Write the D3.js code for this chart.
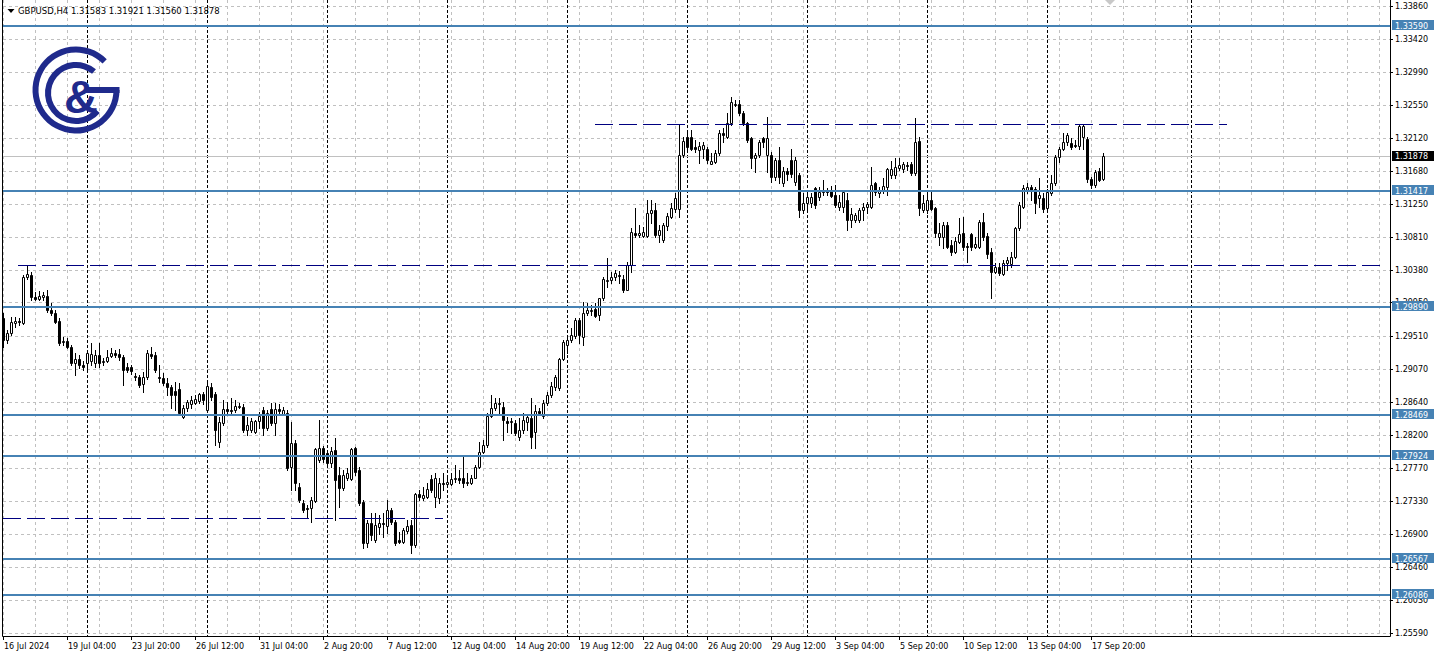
<!DOCTYPE html>
<html><head><meta charset="utf-8">
<script src="https://cdn.jsdelivr.net/npm/d3@7"></script>
<style>
html,body{margin:0;padding:0;background:#fff;overflow:hidden;}
svg{display:block;}
</style></head><body>
<svg id="chart" width="1437" height="657"></svg>
<script>
const symbolTitle = "GBPUSD,H4";

const openPrices = [
1.2974,1.2945,1.2955,1.2968,1.2970,1.2968,1.3028,1.3031,1.3002,1.2999,
1.3002,1.3003,1.2985,1.2981,1.2970,1.2943,1.2944,1.2936,1.2915,1.2920,
1.2912,1.2915,1.2918,1.2915,1.2926,1.2916,1.2918,1.2924,1.2928,1.2927,
1.2923,1.2910,1.2910,1.2898,1.2896,1.2887,1.2896,1.2927,1.2926,1.2896,
1.2895,1.2889,1.2883,1.2878,1.2881,1.2844,1.2856,1.2861,1.2862,1.2865,
1.2874,1.2853,1.2883,1.2874,1.2811,1.2836,1.2854,1.2853,1.2853,1.2857,
1.2857,1.2827,1.2827,1.2824,1.2838,1.2853,1.2829,1.2854,1.2836,1.2854,
1.2848,1.2849,1.2778,1.2809,1.2751,1.2730,1.2724,1.2724,1.2733,1.2787,
1.2803,1.2796,1.2783,1.2800,1.2767,1.2750,1.2764,1.2762,1.2803,1.2774,
1.2732,1.2678,1.2704,1.2682,1.2699,1.2704,1.2700,1.2721,1.2705,1.2682,
1.2679,1.2693,1.2701,1.2675,1.2742,1.2737,1.2738,1.2762,1.2738,1.2737,
1.2757,1.2756,1.2756,1.2762,1.2763,1.2763,1.2757,1.2757,1.2764,1.2778,
1.2798,1.2807,1.2845,1.2856,1.2861,1.2857,1.2838,1.2837,1.2836,1.2817,
1.2827,1.2837,1.2842,1.2824,1.2852,1.2845,1.2862,1.2873,1.2883,1.2882,
1.2920,1.2939,1.2945,1.2951,1.2972,1.2949,1.2981,1.2984,1.2986,1.2978,
1.3001,1.3023,1.3024,1.3028,1.3031,1.3026,1.3012,1.3044,1.3086,1.3084,
1.3082,1.3082,1.3113,1.3117,1.3084,1.3077,1.3096,1.3108,1.3118,1.3118,
1.3190,1.3213,1.3213,1.3200,1.3196,1.3198,1.3198,1.3178,1.3180,1.3192,
1.3218,1.3213,1.3232,1.3255,1.3257,1.3245,1.3232,1.3212,1.3186,1.3190,
1.3212,1.3190,1.3190,1.3160,1.3183,1.3152,1.3168,1.3183,1.3154,1.3163,
1.3117,1.3126,1.3126,1.3146,1.3134,1.3141,1.3142,1.3143,1.3137,1.3121,
1.3121,1.3130,1.3104,1.3104,1.3104,1.3117,1.3121,1.3121,1.3152,1.3139,
1.3143,1.3147,1.3163,1.3163,1.3172,1.3171,1.3176,1.3178,1.3166,1.3208,
1.3117,1.3117,1.3130,1.3120,1.3081,1.3081,1.3097,1.3071,1.3062,1.3075,
1.3086,1.3069,1.3085,1.3068,1.3068,1.3101,1.3082,1.3062,1.3035,1.3042,
1.3032,1.3047,1.3046,1.3055,1.3093,1.3121,1.3143,1.3147,1.3145,1.3133,
1.3133,1.3120,1.3139,1.3152,1.3187,1.3198,1.3207,1.3205,1.3203,1.3201,
1.3213,1.3210,1.3158,1.3150,1.3168,1.31583];

const highPrices = [
1.2981,1.2959,1.2976,1.2976,1.2974,1.3031,1.3044,1.3035,1.3009,1.3010,
1.3009,1.3012,1.2994,1.2985,1.2974,1.2949,1.2948,1.2939,1.2928,1.2926,
1.2918,1.2932,1.2941,1.2932,1.2941,1.2922,1.2932,1.2935,1.2932,1.2933,
1.2926,1.2915,1.2912,1.2902,1.2899,1.2903,1.2932,1.2936,1.2930,1.2912,
1.2902,1.2895,1.2886,1.2890,1.2889,1.2860,1.2866,1.2871,1.2873,1.2875,
1.2877,1.2889,1.2889,1.2877,1.2844,1.2866,1.2864,1.2869,1.2866,1.2862,
1.2861,1.2844,1.2842,1.2840,1.2850,1.2857,1.2853,1.2862,1.2862,1.2861,
1.2857,1.2853,1.2837,1.2813,1.2757,1.2734,1.2728,1.2738,1.2803,1.2840,
1.2805,1.2800,1.2804,1.2816,1.2778,1.2774,1.2776,1.2803,1.2804,1.2778,
1.2734,1.2708,1.2717,1.2717,1.2715,1.2717,1.2734,1.2724,1.2708,1.2692,
1.2698,1.2708,1.2708,1.2743,1.2747,1.2751,1.2757,1.2767,1.2770,1.2764,
1.2770,1.2764,1.2770,1.2780,1.2774,1.2794,1.2770,1.2767,1.2780,1.2811,
1.2813,1.2849,1.2873,1.2869,1.2869,1.2864,1.2844,1.2842,1.2840,1.2842,
1.2849,1.2846,1.2869,1.2860,1.2856,1.2866,1.2877,1.2890,1.2899,1.2922,
1.2945,1.2948,1.2961,1.2974,1.2974,1.2996,1.2994,1.2991,1.2994,1.3001,
1.3028,1.3053,1.3035,1.3038,1.3036,1.3031,1.3048,1.3093,1.3120,1.3097,
1.3094,1.3130,1.3130,1.3126,1.3097,1.3100,1.3113,1.3126,1.3139,1.3229,
1.3213,1.3220,1.3222,1.3209,1.3207,1.3207,1.3200,1.3192,1.3196,1.3222,
1.3225,1.3245,1.3266,1.3262,1.3262,1.3248,1.3233,1.3213,1.3192,1.3209,
1.3213,1.3240,1.3194,1.3186,1.3200,1.3174,1.3172,1.3198,1.3187,1.3166,
1.3139,1.3139,1.3139,1.3147,1.3147,1.3157,1.3146,1.3149,1.3150,1.3137,
1.3143,1.3139,1.3120,1.3113,1.3120,1.3126,1.3128,1.3174,1.3154,1.3147,
1.3159,1.3172,1.3182,1.3186,1.3186,1.3180,1.3180,1.3180,1.3238,1.3213,
1.3137,1.3143,1.3143,1.3121,1.3100,1.3101,1.3101,1.3077,1.3081,1.3107,
1.3108,1.3073,1.3086,1.3081,1.3104,1.3113,1.3086,1.3067,1.3047,1.3047,
1.3051,1.3055,1.3062,1.3094,1.3127,1.3150,1.3152,1.3150,1.3147,1.3159,
1.3139,1.3145,1.3163,1.3190,1.3200,1.3218,1.3218,1.3212,1.3209,1.3229,
1.3230,1.3213,1.3160,1.3170,1.3172,1.31921];

const lowPrices = [
1.2936,1.2941,1.2952,1.2963,1.2965,1.2967,1.3026,1.2998,1.2998,1.2998,
1.2998,1.2982,1.2978,1.2968,1.2939,1.2939,1.2935,1.2912,1.2899,1.2908,
1.2906,1.2906,1.2912,1.2910,1.2910,1.2912,1.2916,1.2923,1.2923,1.2919,
1.2886,1.2903,1.2900,1.2893,1.2883,1.2877,1.2894,1.2922,1.2903,1.2890,
1.2886,1.2873,1.2856,1.2853,1.2846,1.2842,1.2852,1.2856,1.2861,1.2862,
1.2861,1.2850,1.2866,1.2807,1.2804,1.2833,1.2849,1.2848,1.2850,1.2856,
1.2824,1.2820,1.2824,1.2823,1.2829,1.2820,1.2827,1.2833,1.2820,1.2849,
1.2846,1.2774,1.2747,1.2747,1.2732,1.2719,1.2711,1.2705,1.2732,1.2784,
1.2784,1.2780,1.2778,1.2708,1.2725,1.2747,1.2761,1.2761,1.2768,1.2728,
1.2671,1.2672,1.2682,1.2679,1.2689,1.2686,1.2691,1.2703,1.2675,1.2678,
1.2678,1.2691,1.2664,1.2672,1.2734,1.2734,1.2737,1.2745,1.2725,1.2730,
1.2747,1.2751,1.2754,1.2758,1.2757,1.2751,1.2754,1.2756,1.2763,1.2776,
1.2796,1.2804,1.2844,1.2853,1.2849,1.2813,1.2824,1.2823,1.2820,1.2813,
1.2823,1.2827,1.2803,1.2803,1.2846,1.2842,1.2860,1.2870,1.2879,1.2879,
1.2919,1.2928,1.2943,1.2948,1.2941,1.2939,1.2978,1.2978,1.2976,1.2972,
1.2998,1.3015,1.3020,1.3024,1.3020,1.3009,1.3011,1.3035,1.3081,1.3081,
1.3081,1.3081,1.3100,1.3081,1.3075,1.3075,1.3090,1.3106,1.3114,1.3108,
1.3187,1.3196,1.3196,1.3194,1.3179,1.3185,1.3179,1.3177,1.3179,1.3190,
1.3207,1.3212,1.3229,1.3254,1.3242,1.3229,1.3207,1.3172,1.3167,1.3187,
1.3200,1.3167,1.3154,1.3157,1.3153,1.3149,1.3157,1.3160,1.3150,1.3108,
1.3113,1.3114,1.3121,1.3120,1.3130,1.3137,1.3137,1.3134,1.3121,1.3117,
1.3114,1.3090,1.3094,1.3101,1.3101,1.3104,1.3113,1.3120,1.3137,1.3134,
1.3139,1.3137,1.3159,1.3159,1.3170,1.3167,1.3170,1.3163,1.3163,1.3110,
1.3114,1.3113,1.3117,1.3081,1.3071,1.3067,1.3067,1.3058,1.3060,1.3073,
1.3064,1.3048,1.3064,1.3067,1.3067,1.3077,1.3054,1.3001,1.3034,1.3031,
1.3031,1.3038,1.3042,1.3053,1.3090,1.3120,1.3139,1.3130,1.3113,1.3121,
1.3114,1.3117,1.3137,1.3150,1.3180,1.3196,1.3203,1.3198,1.3200,1.3198,
1.3198,1.3154,1.3146,1.3147,1.3155,1.31560];

const closePrices = [
1.2945,1.2955,1.2969,1.2970,1.2969,1.3028,1.3032,1.3002,1.2999,1.3003,
1.3005,1.2985,1.2981,1.2969,1.2941,1.2944,1.2936,1.2915,1.2920,1.2912,
1.2910,1.2928,1.2927,1.2926,1.2915,1.2918,1.2923,1.2928,1.2926,1.2923,
1.2906,1.2906,1.2904,1.2896,1.2886,1.2896,1.2928,1.2924,1.2906,1.2895,
1.2889,1.2883,1.2873,1.2873,1.2849,1.2856,1.2864,1.2866,1.2867,1.2874,
1.2866,1.2885,1.2870,1.2827,1.2837,1.2854,1.2852,1.2852,1.2858,1.2858,
1.2827,1.2833,1.2838,1.2838,1.2845,1.2829,1.2849,1.2836,1.2854,1.2852,
1.2853,1.2776,1.2809,1.2757,1.2734,1.2721,1.2723,1.2734,1.2802,1.2803,
1.2788,1.2783,1.2799,1.2761,1.2750,1.2767,1.2770,1.2802,1.2771,1.2730,
1.2678,1.2704,1.2688,1.2701,1.2704,1.2703,1.2721,1.2705,1.2678,1.2679,
1.2695,1.2700,1.2675,1.2742,1.2738,1.2741,1.2749,1.2747,1.2764,1.2757,
1.2756,1.2758,1.2762,1.2763,1.2761,1.2757,1.2758,1.2764,1.2778,1.2798,
1.2807,1.2845,1.2856,1.2862,1.2862,1.2840,1.2836,1.2838,1.2823,1.2827,
1.2840,1.2844,1.2817,1.2852,1.2849,1.2862,1.2873,1.2885,1.2896,1.2920,
1.2943,1.2945,1.2952,1.2972,1.2952,1.2981,1.2985,1.2985,1.2977,1.3001,
1.3026,1.3024,1.3028,1.3034,1.3030,1.3011,1.3044,1.3088,1.3084,1.3086,
1.3088,1.3113,1.3117,1.3084,1.3090,1.3097,1.3109,1.3120,1.3133,1.3190,
1.3208,1.3200,1.3198,1.3198,1.3201,1.3203,1.3183,1.3182,1.3192,1.3218,
1.3216,1.3232,1.3260,1.3257,1.3245,1.3232,1.3209,1.3186,1.3190,1.3207,
1.3207,1.3212,1.3160,1.3183,1.3160,1.3168,1.3164,1.3164,1.3183,1.3117,
1.3126,1.3134,1.3134,1.3124,1.3141,1.3142,1.3141,1.3135,1.3124,1.3128,
1.3141,1.3104,1.3112,1.3110,1.3117,1.3121,1.3125,1.3150,1.3141,1.3143,
1.3149,1.3171,1.3171,1.3174,1.3176,1.3178,1.3175,1.3166,1.3207,1.3120,
1.3126,1.3130,1.3118,1.3086,1.3086,1.3097,1.3068,1.3062,1.3076,1.3085,
1.3068,1.3068,1.3068,1.3072,1.3101,1.3081,1.3059,1.3035,1.3042,1.3034,
1.3047,1.3051,1.3055,1.3093,1.3124,1.3146,1.3147,1.3142,1.3126,1.3137,
1.3118,1.3141,1.3152,1.3187,1.3198,1.3207,1.3216,1.3200,1.3201,1.3228,
1.3228,1.3158,1.3150,1.3167,1.3157,1.31878];

const timeLabels = ["16 Jul 2024","19 Jul 04:00","23 Jul 20:00","26 Jul 12:00","31 Jul 04:00",
  "2 Aug 20:00","7 Aug 12:00","12 Aug 04:00","14 Aug 20:00","19 Aug 12:00","22 Aug 04:00",
  "26 Aug 20:00","29 Aug 12:00","3 Sep 04:00","5 Sep 20:00","10 Sep 12:00","13 Sep 04:00","17 Sep 20:00"];
const timeLabelStep = 16;
const gridStep = 8;
const separatorBars = [21,51,81,111,141,171,201,231,261,297];

const priceTicks = [1.33860,1.33420,1.32990,1.32550,1.32120,1.31680,1.31250,1.30810,1.30380,1.29950,
  1.29510,1.29070,1.28640,1.28200,1.27770,1.27330,1.26900,1.26460,1.26030,1.25590];
const levelPrices = [1.33590,1.31417,1.29890,1.28469,1.27924,1.26567,1.26086];
const trendFrom = [148, 3.75, 0];
const trendTo = [306, 344.25, 110];
const trendPrice = [1.32304, 1.30444, 1.27107];
const currentPrice = 1.31878;

// ---------- drawing ----------
const FONT = "'DejaVu Sans', Tahoma, sans-serif";
const svg = d3.select("#chart");
const x = d3.scaleLinear().domain([0, 346.75]).range([3, 1390]).interpolate(d3.interpolateRound);
const y = d3.scaleLinear().domain([1.25590, 1.33860]).range([633, 6]).interpolate(d3.interpolateRound);
const PLOT_R = 1390, PLOT_B = 636;

svg.append("rect").attr("width",1437).attr("height",657).attr("fill","#fff");

// grid
const grid = svg.append("g").attr("stroke","#c0c0c0").attr("stroke-dasharray","3,3").attr("stroke-width",1);
grid.selectAll("line.v").data(d3.range(0, 347, gridStep)).join("line")
  .attr("x1",d=>x(d)+0.5).attr("x2",d=>x(d)+0.5).attr("y1",0).attr("y2",PLOT_B);
grid.selectAll("line.h").data(priceTicks).join("line")
  .attr("x1",3).attr("x2",PLOT_R).attr("y1",d=>y(d)+0.5).attr("y2",d=>y(d)+0.5);

// period separators
svg.append("g").attr("stroke","#000").attr("stroke-dasharray","3,2")
  .selectAll("line").data(separatorBars).join("line")
  .attr("x1",d=>x(d)+0.5).attr("x2",d=>x(d)+0.5).attr("y1",0).attr("y2",PLOT_B);

// bid line
svg.append("line").attr("x1",3).attr("x2",PLOT_R)
  .attr("y1",y(currentPrice)+0.5).attr("y2",y(currentPrice)+0.5).attr("stroke","#c0c0c0");

// logo
const logoColor = "#1f2a8c";
const logo = svg.append("g").attr("fill",logoColor);
const arc = d3.arc();
logo.append("path").attr("transform","translate(76,90)")
  .attr("d", arc({innerRadius:37.5, outerRadius:43.5, startAngle:-1.5*Math.PI, endAngle:Math.PI/4}));
logo.append("rect").attr("x",86).attr("y",87).attr("width",33.5).attr("height",6);
logo.append("path").attr("transform","translate(76,93)")
  .attr("d", arc({innerRadius:25, outerRadius:31, startAngle:130*Math.PI/180, endAngle:400*Math.PI/180}));
logo.append("text").attr("x",81).attr("y",113).attr("text-anchor","middle")
  .attr("font-family","'Liberation Sans', Arial, sans-serif").attr("font-weight","bold")
  .attr("font-size",47).text("&");

// candles
const bars = openPrices.map((o,i)=>({i,o,h:highPrices[i],l:lowPrices[i],c:closePrices[i]}));
const cg = svg.append("g");
cg.selectAll("line").data(bars).join("line")
  .attr("x1",d=>x(d.i)+0.5).attr("x2",d=>x(d.i)+0.5)
  .attr("y1",d=>y(d.h)).attr("y2",d=>y(d.l)+1)
  .attr("stroke","#000").attr("stroke-width",1);
cg.selectAll("path").data(bars).join("path")
  .attr("d",d=>{
    const t = y(Math.max(d.o,d.c)), b = y(Math.min(d.o,d.c));
    const cx = x(d.i);
    return `M${cx-0.5},${t+0.5}h2v${b-t}h-2Z`;
  })
  .attr("fill",d=>d.c>=d.o?"#fff":"#000").attr("stroke","#000").attr("stroke-width",1);

// level lines
svg.append("g").attr("stroke","#4682b4").attr("stroke-width",2)
  .selectAll("line").data(levelPrices).join("line")
  .attr("x1",3).attr("x2",PLOT_R).attr("y1",d=>y(d)).attr("y2",d=>y(d));

// trend (dashed) lines
svg.append("g").attr("stroke","#000080").attr("stroke-width",1).attr("stroke-dasharray","18,6")
  .selectAll("line").data(trendPrice).join("line")
  .attr("x1",(d,k)=>x(trendFrom[k])).attr("x2",(d,k)=>x(trendTo[k]))
  .attr("y1",d=>y(d)+0.5).attr("y2",d=>y(d)+0.5);

// shift marker
svg.append("path").attr("d","M1105,0L1115,0L1110,5Z").attr("fill","#c8c8c8");

// axes
const xAxis = d3.axisBottom(x)
  .tickValues(timeLabels.map((_,k)=>k*timeLabelStep))
  .tickFormat((d,k)=>timeLabels[k]).tickSize(4).tickSizeOuter(0).tickPadding(3);
const gx = svg.append("g").attr("transform",`translate(0,${PLOT_B})`).call(xAxis)
  .attr("font-family",FONT).attr("font-size",8);
gx.select(".domain").remove();
gx.selectAll(".tick text").attr("text-anchor","start").attr("dx",0.5).attr("fill","#000");
gx.selectAll(".tick line").attr("stroke","#000");

const yAxis = d3.axisRight(y).tickValues(priceTicks).tickFormat(d3.format(".5f"))
  .tickSize(3).tickPadding(2).tickSizeOuter(0);
const gy = svg.append("g").attr("transform",`translate(${PLOT_R},0)`).call(yAxis)
  .attr("font-family",FONT).attr("font-size",8);
gy.select(".domain").remove();
gy.selectAll(".tick text").attr("fill","#000");
gy.selectAll(".tick line").attr("stroke","#000");

// borders
svg.append("path").attr("fill","none").attr("stroke","#000").attr("stroke-width",1)
  .attr("d",`M2.5,0V${PLOT_B+0.5}H${PLOT_R+0.5}V0`);

// price labels
const lab = svg.append("g").attr("font-family",FONT).attr("font-size",8);
const lg = lab.selectAll("g.lvl").data(levelPrices).join("g")
  .attr("transform",d=>`translate(0,${y(d)})`);
lg.append("rect").attr("x",1392).attr("y",-6).attr("width",42).attr("height",10).attr("fill","#4682b4");
lg.append("text").attr("x",1395).attr("y",2.5).attr("fill","#fff").text(d=>d3.format(".5f")(d));
const cur = lab.append("g").attr("transform",`translate(0,${y(currentPrice)})`);
cur.append("rect").attr("x",1392).attr("y",-5).attr("width",42).attr("height",10).attr("fill","#000");
cur.append("text").attr("x",1395).attr("y",3).attr("fill","#fff").text(d3.format(".5f")(currentPrice));

// header
const last = bars[bars.length-1];
const f5 = d3.format(".5f");
svg.append("path").attr("d","M7.5,9L14.5,9L11,13Z").attr("fill","#000");
svg.append("text").attr("x",18).attr("y",14).attr("font-family",FONT).attr("font-size",8.5).attr("fill","#000")
  .text(`${symbolTitle} ${f5(last.o)} ${f5(last.h)} ${f5(last.l)} ${f5(last.c)}`);
</script>
</body></html>
